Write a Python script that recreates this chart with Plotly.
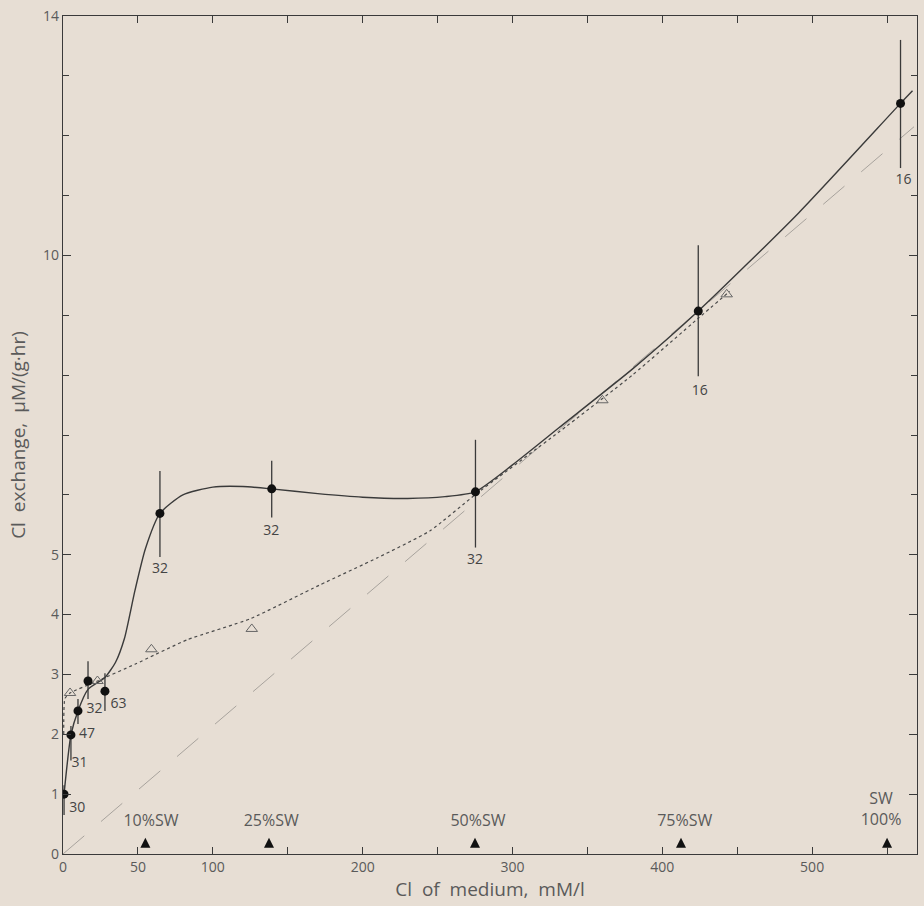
import plotly.graph_objects as go

# ---- data ----
cl_medium = [0.7, 5.3, 10, 16.7, 28, 64.7, 139.3, 275.3, 424, 559]
cl_exchange = [1.0, 1.99, 2.39, 2.89, 2.72, 5.69, 6.10, 6.05, 9.07, 12.54]
err_up = [0.15, 0.15, 0.20, 0.33, 0.30, 0.71, 0.47, 0.87, 1.10, 1.06]
err_down = [0.35, 0.43, 0.22, 0.30, 0.33, 0.73, 0.48, 0.93, 1.09, 1.08]
n_labels = ["30", "31", "47", "32", "63", "32", "32", "32", "16", "16"]
n_label_x = [9.5, 11, 16, 21, 37, 64.7, 139, 275, 425, 561]
n_label_y = [0.76, 1.52, 2.0, 2.42, 2.49, 4.76, 5.39, 4.9, 7.73, 11.26]

curve_x = [0.7, 5.3, 10, 16.7, 28, 35, 41, 48, 55, 64.7, 80, 100, 120, 139,
           170, 200, 230, 255, 275, 300, 331, 380, 424, 491, 559, 567]
curve_y = [1.0, 1.99, 2.39, 2.75, 2.95, 3.2, 3.6, 4.4, 5.1, 5.69, 6.0, 6.13,
           6.14, 6.1, 6.02, 5.96, 5.94, 5.97, 6.05, 6.5, 7.12, 8.1, 9.07,
           10.71, 12.54, 12.75]

tri_x = [4.7, 23, 59, 126, 360, 443]
tri_y = [2.69, 2.89, 3.42, 3.76, 7.58, 9.35]

dotted_x = [0.5, 1.3, 4.7, 23, 48, 83, 125, 171, 210, 245, 275, 331, 380, 424, 445]
dotted_y = [2.0, 2.6, 2.69, 2.89, 3.17, 3.58, 3.93, 4.49, 4.95, 5.4, 6.0,
            7.05, 8.0, 8.95, 9.4]

prop_x = [0, 568]
prop_y = [0, 12.15]

sw_x = [55, 137.5, 275, 412.5, 550]
sw_text = ["10%SW", "25%SW", "50%SW", "75%SW", "SW<br>100%"]
sw_text_x = [58.7, 139, 277, 415, 546]
sw_text_y = [0.53, 0.53, 0.53, 0.53, 0.72]

x_tickvals = [0, 50, 100, 200, 300, 400, 500]
y_tickvals = [0, 1, 2, 3, 4, 5, 10, 14]

BG = "#e7ded4"
INK = "#3a3a3a"
TXT = "#5a5a5a"
FONT = "Open Sans"

fig = go.Figure()

fig.add_trace(go.Scatter(x=prop_x, y=prop_y, mode="lines",
                         line=dict(color="#a8a39d", width=1, dash="28px,22px"),
                         hoverinfo="skip", showlegend=False))
fig.add_trace(go.Scatter(x=dotted_x, y=dotted_y, mode="lines",
                         line=dict(color="#4a4a4a", width=1.2, dash="3px,3px",
                                   shape="spline", smoothing=0.5),
                         hoverinfo="skip", showlegend=False))
fig.add_trace(go.Scatter(x=curve_x, y=curve_y, mode="lines",
                         line=dict(color=INK, width=1.4, shape="spline", smoothing=0.6),
                         hoverinfo="skip", showlegend=False))
fig.add_trace(go.Scatter(x=tri_x, y=tri_y, mode="markers",
                         marker=dict(symbol="triangle-up-open", size=10,
                                     color="#666666", line=dict(width=1)),
                         showlegend=False))
fig.add_trace(go.Scatter(x=cl_medium, y=cl_exchange, mode="markers",
                         marker=dict(symbol="circle", size=9, color="#111111"),
                         error_y=dict(type="data", symmetric=False, array=err_up,
                                      arrayminus=err_down, width=0,
                                      thickness=1.3, color=INK),
                         showlegend=False))
fig.add_trace(go.Scatter(x=n_label_x, y=n_label_y, mode="text", text=n_labels,
                         textfont=dict(family=FONT, size=14, color="#444444"),
                         hoverinfo="skip", showlegend=False))
fig.add_trace(go.Scatter(x=sw_x, y=[0.27] * len(sw_x), mode="markers",
                         marker=dict(symbol="arrow-up", size=10, color="#111111"),
                         hoverinfo="skip", showlegend=False))
fig.add_trace(go.Scatter(x=sw_text_x, y=sw_text_y, mode="text", text=sw_text,
                         textfont=dict(family=FONT, size=16, color=TXT),
                         hoverinfo="skip", showlegend=False))

fig.update_layout(
    width=924, height=906,
    margin=dict(l=63, r=6, t=10, b=52),
    paper_bgcolor=BG, plot_bgcolor=BG,
    font=dict(family=FONT, color=TXT, size=14),
    xaxis=dict(range=[0, 570], tickmode="array", tickvals=x_tickvals,
               ticks="inside", ticklen=7, tickcolor=INK, showgrid=False,
               zeroline=False, showline=True, linecolor=INK, linewidth=1.3,
               mirror="ticks", ticklabeloverflow="allow",
               minor=dict(tickmode="array", tickvals=[150, 250, 350, 450, 550],
                          ticks="inside", ticklen=7, tickcolor=INK),
               tickfont=dict(size=14, color=TXT),
               title=dict(text="Cl  of  medium,  mM/l", standoff=3,
                          font=dict(size=19, color=TXT))),
    yaxis=dict(range=[0, 14], tickmode="array", tickvals=y_tickvals,
               ticks="inside", ticklen=8, tickcolor=INK, showgrid=False,
               zeroline=False, showline=True, linecolor=INK, linewidth=1.3,
               mirror="ticks", ticklabeloverflow="allow",
               minor=dict(tickmode="array", tickvals=[6, 7, 8, 9, 11, 12, 13],
                          ticks="inside", ticklen=6, tickcolor=INK),
               tickfont=dict(size=14, color=TXT),
               title=dict(text="Cl  exchange,  µM/(g·hr)", standoff=12,
                          font=dict(size=19, color=TXT))),
)

fig.write_html("out.html")
